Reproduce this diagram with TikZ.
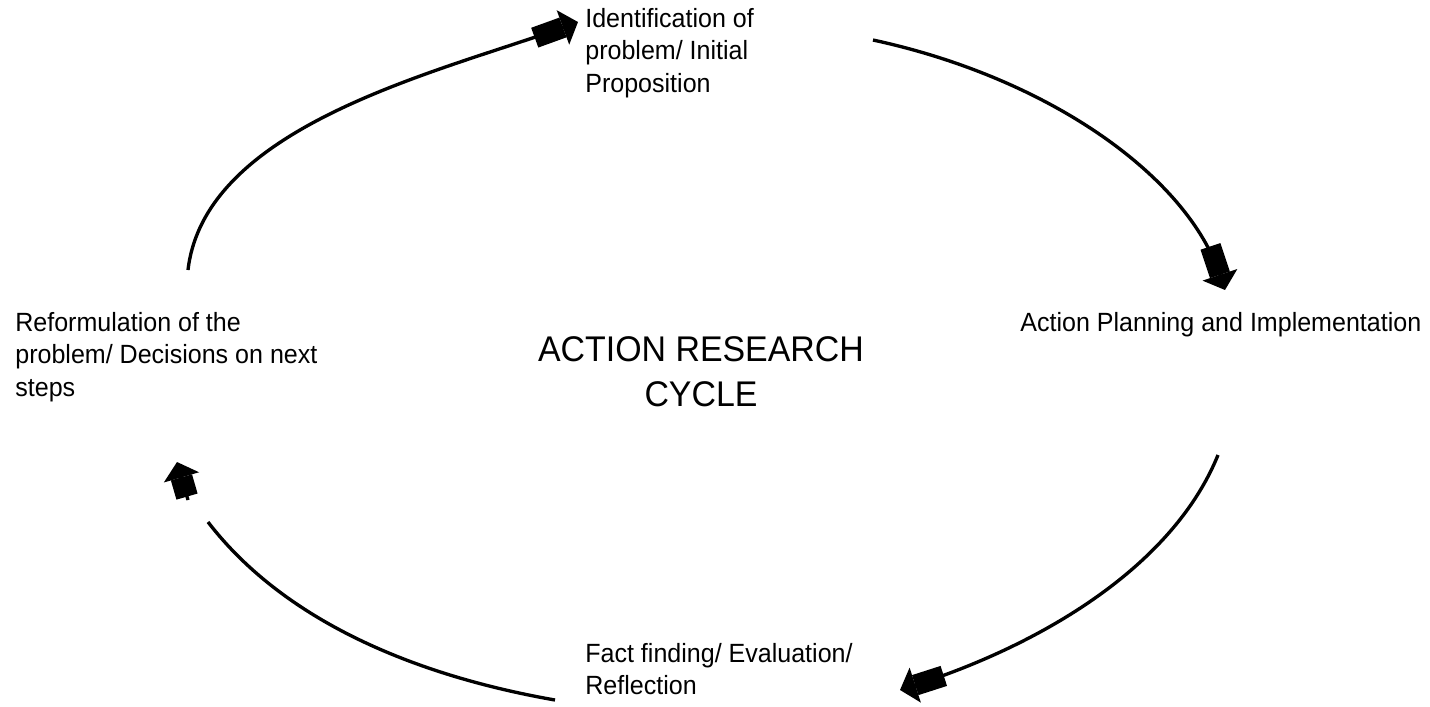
\documentclass[tikz,border=0pt]{standalone}
\usepackage{fontspec}
\setmainfont{Liberation Sans}[FakeStretch=0.95]
\usetikzlibrary{arrows.meta,positioning}
\tikzset{
  cyc/.style={line width=1.9pt},
  blockhead/.style={-{Rectangle[length=6mm,width=4.2mm,sep=0pt]Triangle[length=3.2mm,width=7.2mm]}},
  blockshort/.style={-{Rectangle[length=4mm,width=4.4mm,sep=0pt]Triangle[length=3.2mm,width=7.2mm]}},
  lbl/.style={font=\fontsize{15}{18.4}\selectfont, align=left, inner sep=0pt}
}
\begin{document}
\begin{tikzpicture}[x=0.2mm,y=-0.2mm]
        \useasboundingbox (0,0) rectangle (1430,706);

        % stages of the cycle
        \node[lbl, anchor=north west] (ident) at (585,8) {Identification of\\problem/ Initial\\Proposition};
        \node[lbl, anchor=west] (plan) at (1020,325) {Action Planning and Implementation};
        \node[lbl, anchor=north west] (fact) at (585,643) {Fact finding/ Evaluation/\\Reflection};
        \node[lbl, anchor=north west] (reform) at (15,312) {Reformulation of the\\problem/ Decisions on next\\steps};
        \node[font=\fontsize{20.3}{25.5}\selectfont, align=center, inner sep=0pt] (title) at (701,372) {ACTION RESEARCH\\CYCLE};

        % ends of the arcs
        \coordinate (s1) at (188,270);
        \coordinate (e1) at (578,22);
        \coordinate (s2) at (873,40);
        \coordinate (e2) at (1225,290);
        \coordinate (s3) at (1218,455);
        \coordinate (e3) at (900,690);
        \coordinate (s4) at (555,700);
        \coordinate (e4) at (208,522);
        \coordinate (b4) at (188,500);
        \coordinate (t4) at (177,462);

        % the arcs
        \draw[cyc, blockhead] (s1) .. controls (205,125) and (440,72) .. (e1);
        \draw[cyc, blockhead] (s2) .. controls (1049,78) and (1187,176) .. (e2);
        \draw[cyc, blockhead] (s3) .. controls (1173,566) and (1043,644) .. (e3);
        \draw[cyc] (s4) .. controls (407,674) and (281,617) .. (e4);
        \draw[cyc, blockshort] (b4) -- (t4);
\end{tikzpicture}
\end{document}
